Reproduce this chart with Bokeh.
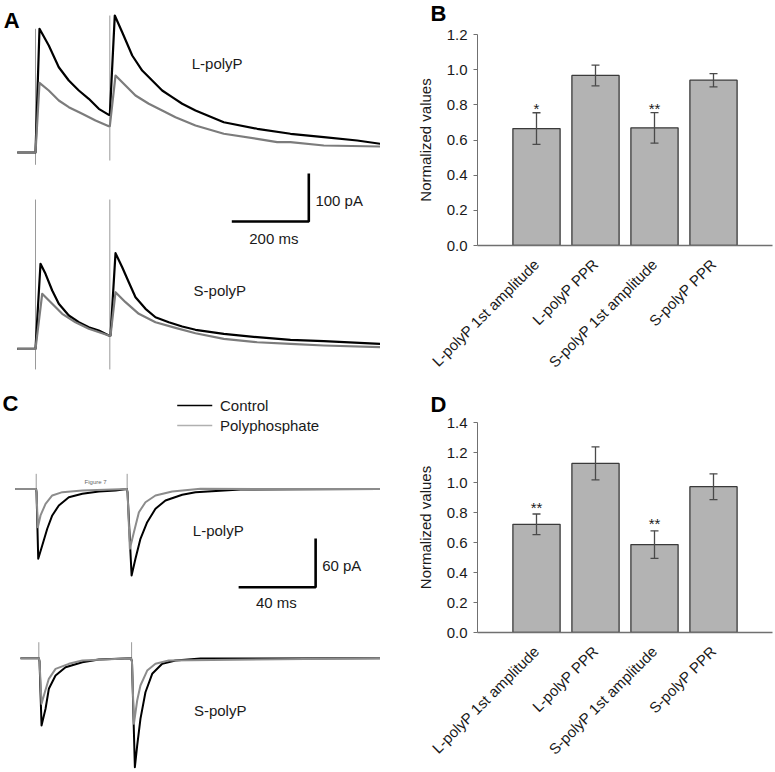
import math
from bokeh.plotting import figure
from bokeh.models import (Range1d, Label, Whisker, TeeHead, ColumnDataSource,
                          FixedTicker, PrintfTickFormatter, Title)
from bokeh.layouts import row, column
from bokeh.embed import file_html
from bokeh.resources import INLINE
from bokeh.core.properties import value

FONT = "Liberation Sans"

# ---------------- Panel A: paired-pulse currents (ms, pA relative to baseline) -------------
A_STIM_MS = [0.0, 193.0]
A_L_CTRL_T = [-47.5, 0.0, 10.4, 34.5, 60.5, 86.5, 112.5, 138.4, 164.4, 190.4, 193.0, 205.9,
              225.2, 251.2, 277.1, 303.1, 329.0, 355.0, 381.0, 415.5, 489.0, 575.8, 662.2,
              748.7, 835.5, 896.0]
A_L_CTRL_I = [0, 0, 257.7, 222.9, 177.7, 150.0, 129.2, 111.9, 91.0, 78.5, 78.5, 285.4,
              250.6, 202.1, 170.8, 150.0, 129.2, 115.2, 101.5, 87.5, 63.1, 49.4, 39.0,
              31.9, 25.0, 18.1]
A_L_POLY_T = [-47.5, 0.0, 10.4, 34.5, 60.5, 86.5, 121.3, 155.8, 190.4, 193.0, 207.8, 233.7,
              259.7, 294.2, 329.0, 363.6, 415.5, 489.0, 575.8, 627.7, 662.2, 748.7, 896.0]
A_L_POLY_I = [0, 0, 145.2, 129.2, 108.3, 94.4, 80.6, 66.7, 54.8, 54.8, 160.4, 139.6,
              118.7, 101.5, 87.5, 73.5, 56.2, 39.0, 28.5, 21.5, 21.5, 14.6, 12.5]
A_S_CTRL_T = [-47.5, 0.0, 13.0, 26.0, 43.4, 60.5, 86.5, 112.5, 138.4, 164.4, 190.4, 194.8,
              207.8, 225.2, 242.3, 259.7, 285.7, 311.6, 346.2, 381.0, 415.5, 489.0, 575.8,
              662.2, 748.7, 896.0]
A_S_CTRL_I = [0, 0, 177.1, 156.2, 121.5, 93.7, 69.4, 55.4, 45.0, 38.1, 27.7, 27.7,
              199.2, 170.0, 138.7, 107.5, 83.3, 65.8, 55.4, 46.5, 39.6, 31.2, 24.2,
              18.7, 15.8, 10.4]
A_S_POLY_T = [-47.5, 0.0, 17.4, 43.4, 69.3, 103.9, 138.4, 190.4, 194.8, 207.8, 233.7, 268.3,
              311.6, 363.6, 415.5, 489.0, 575.8, 662.2, 748.7, 896.0]
A_S_POLY_I = [0, 0, 114.6, 93.7, 72.9, 55.4, 41.7, 27.7, 27.7, 117.9, 97.1, 72.9,
              55.4, 43.7, 32.5, 20.8, 13.7, 10.4, 6.9, 3.3]
A_L_ARTIFACT = [(-25.6, 257.7), (-16.7, 285.4)]
A_S_ARTIFACT = [(-43.0, 311.0), (-43.0, 311.0)]
A_SCALE = {"ms": 200, "pA": 100}

# ---------------- Panel C: paired-pulse currents (ms, pA relative to baseline) -------------
C_L_STIM_MS = [0.35, 47.6]
C_S_STIM_MS = [1.71, 49.9]
C_L_CTRL_T = [-10.4, 0.26, 0.52, 1.40, 3.48, 6.08, 8.68, 12.1, 17.3, 24.3, 32.9, 41.6, 47.4,
              47.8, 49.9, 51.9, 54.5, 58.0, 62.3, 67.5, 76.2, 83.1, 106.5, 179.2]
C_L_CTRL_I = [0, 0, -4.3, -86.0, -69.6, -49.0, -32.6, -20.3, -10.1, -5.9, -3.1, -1.8, 0,
              -4.3, -106.6, -86.0, -61.4, -40.9, -24.4, -14.2, -7.1, -3.9, -0.6, 0]
C_L_POLY_T = [-10.4, 0.26, 0.52, 1.19, 2.60, 5.20, 8.68, 13.9, 24.3, 47.4, 47.8, 49.0, 51.1,
              53.7, 57.1, 62.3, 71.0, 85.7, 179.2]
C_L_POLY_I = [0, 0, -4.3, -47.1, -32.6, -18.2, -8.0, -3.9, -1.8, 0, -4.3, -73.7, -53.2,
              -28.6, -16.3, -8.0, -3.1, 0.2, 0]
C_S_CTRL_T = [-7.8, 1.71, 2.08, 3.12, 5.20, 6.91, 10.4, 15.6, 24.3, 32.9, 49.6, 50.1, 51.6,
              52.8, 54.5, 57.1, 60.6, 65.8, 72.7, 85.7, 179.2]
C_S_CTRL_I = [0, 0, -4.1, -83.0, -62.3, -37.7, -21.3, -11.1, -4.9, -1.6, 0, -4.1, -134.3,
              -107.6, -74.7, -41.9, -19.2, -6.9, -2.8, -0.4, 0]
C_S_POLY_T = [-7.8, 1.71, 2.08, 3.12, 4.83, 6.91, 10.4, 17.3, 24.3, 49.6, 50.1, 51.1, 52.8,
              54.5, 58.0, 62.3, 69.2, 179.2]
C_S_POLY_I = [0, 0, -4.1, -56.2, -41.9, -25.4, -13.1, -6.9, -2.8, 0, -4.1, -80.8, -52.1,
              -33.6, -15.2, -6.9, -2.8, 0]
C_L_ARTIFACT_PA = 18.7
C_S_ARTIFACT_PA = 19.7
C_SCALE = {"ms": 40, "pA": 60}
LEGEND_LABELS = ["Control", "Polyphosphate"]

# ---------------- Panels B and D: normalized values -------------
CATEGORIES = ["L-polyP 1st amplitude", "L-polyP PPR", "S-polyP 1st amplitude", "S-polyP PPR"]
B_MEANS = [0.665, 0.967, 0.669, 0.940]
B_ERRORS = [0.090, 0.059, 0.087, 0.038]
B_STARS = ["*", "", "**", ""]
B_YTICKS = [0.0, 0.2, 0.4, 0.6, 0.8, 1.0, 1.2]
D_MEANS = [0.721, 1.127, 0.586, 0.972]
D_ERRORS = [0.069, 0.110, 0.092, 0.086]
D_STARS = ["**", "", "**", ""]
D_YTICKS = [0.0, 0.2, 0.4, 0.6, 0.8, 1.0, 1.2, 1.4]

BLACK = "#000000"
GRAY_A = "#7c7c7c"
GRAY_C = "#8c8c8c"
ART = "#9a9a9a"
TXT = "#1a1a1a"


def trace_fig(width, height, xr, yr):
    p = figure(width=width, height=height, x_range=Range1d(*xr), y_range=Range1d(*yr),
               x_axis_location=None, y_axis_location=None, toolbar_location=None,
               output_backend="svg", min_border=0, outline_line_color=None)
    p.grid.visible = False
    return p


def add_text(p, x, y, t, size="15px", align="center", baseline="middle", color=TXT):
    p.text(x=[x], y=[y], text=[t], text_font=value(FONT), text_font_size=size,
           text_align=align, text_baseline=baseline, text_color=color)


def letter(p, x, y, t):
    p.add_layout(Label(x=x, y=y, text=t, text_font=FONT, text_font_size="22px",
                       text_font_style="bold", text_color=BLACK, text_align="left",
                       text_baseline="alphabetic"))


# ---------------- Panel A ----------------
pA = trace_fig(380, 370, (-90.9, 896.0), (-454.2, 316.7))
S_OFF_A = -409.0
for t, (lo, hi) in zip(A_STIM_MS, A_L_ARTIFACT):
    pA.segment(x0=[t], y0=[lo], x1=[t], y1=[hi], line_color=ART, line_width=1)
for t, (lo, hi) in zip(A_STIM_MS, A_S_ARTIFACT):
    pA.segment(x0=[t], y0=[lo + S_OFF_A], x1=[t], y1=[hi + S_OFF_A], line_color=ART, line_width=1)
pA.line(A_L_CTRL_T, A_L_CTRL_I, line_color=BLACK, line_width=2.2, line_join="round")
pA.line(A_L_POLY_T, A_L_POLY_I, line_color=GRAY_A, line_width=2.2, line_join="round")
pA.line(A_S_CTRL_T, [v + S_OFF_A for v in A_S_CTRL_I], line_color=BLACK, line_width=2.2,
        line_join="round")
pA.line(A_S_POLY_T, [v + S_OFF_A for v in A_S_POLY_I], line_color=GRAY_A, line_width=2.2,
        line_join="round")
# scale bar
cx, cy = 709.8, -143.7
pA.line([cx - A_SCALE["ms"], cx, cx], [cy, cy, cy + A_SCALE["pA"]], line_color=BLACK,
        line_width=2.6)
add_text(pA, 727.0, -100.0, f'{A_SCALE["pA"]} pA', align="left")
add_text(pA, 619.0, -179.8, f'{A_SCALE["ms"]} ms')
add_text(pA, 471.8, 184.8, "L-polyP")
add_text(pA, 478.7, 121.5 + S_OFF_A, "S-polyP")
letter(pA, -82.3, 275.0, "A")

# ---------------- Panel C ----------------
pC = trace_fig(380, 402, (-18.2, 179.2), (-349.3, 146.0))
S_OFF_C = -208.5
for t in C_L_STIM_MS:
    pC.segment(x0=[t], y0=[0], x1=[t], y1=[C_L_ARTIFACT_PA], line_color=ART, line_width=1)
for t in C_S_STIM_MS:
    pC.segment(x0=[t], y0=[S_OFF_C], x1=[t], y1=[C_S_ARTIFACT_PA + S_OFF_C], line_color=ART,
               line_width=1)
pC.line(C_L_CTRL_T, C_L_CTRL_I, line_color=BLACK, line_width=2.0, line_join="round")
pC.line(C_L_POLY_T, C_L_POLY_I, line_color=GRAY_C, line_width=2.0, line_join="round")
pC.line(C_S_CTRL_T, [v + S_OFF_C for v in C_S_CTRL_I], line_color=BLACK, line_width=2.0,
        line_join="round")
pC.line(C_S_POLY_T, [v + S_OFF_C for v in C_S_POLY_I], line_color=GRAY_C, line_width=2.0,
        line_join="round")
# legend
pC.line([73.6, 91.8], [102.9, 102.9], line_color=BLACK, line_width=1.3)
pC.line([73.6, 91.8], [78.2, 78.2], line_color="#b0b0b0", line_width=1.6)
add_text(pC, 95.8, 102.9, LEGEND_LABELS[0], align="left")
add_text(pC, 95.8, 78.2, LEGEND_LABELS[1], align="left")
add_text(pC, 31.2, 8.4, "Figure 7", size="6px", color="#666666")
# scale bar
cx, cy = 145.5, -121.0
pC.line([cx - C_SCALE["ms"], cx, cx], [cy, cy, cy + C_SCALE["pA"]], line_color=BLACK,
        line_width=2.6)
add_text(pC, 148.9, -94.2, f'{C_SCALE["pA"]} pA', align="left")
add_text(pC, 125.1, -140.2, f'{C_SCALE["ms"]} ms')
add_text(pC, 94.9, -51.1, "L-polyP")
add_text(pC, 95.9, -65.0 + S_OFF_C, "S-polyP")
letter(pC, -17.1, 105.0, "C")


# ---------------- Bar panels ----------------
def bar_fig(height, top_b, bottom_b, ymax, means, errs, stars, yticks, star_off, let, spacer_px):
    xs = [i + 1 for i in range(len(CATEGORIES))]
    p = figure(width=395, height=height, x_range=Range1d(0, 5), y_range=Range1d(0, ymax),
               toolbar_location=None, output_backend="svg", title=None,
               min_border_left=97, min_border_right=3, min_border_top=top_b,
               min_border_bottom=bottom_b, outline_line_color=None)
    p.add_layout(Title(text=" ", text_font=FONT, text_font_size=spacer_px, standoff=0), "above")
    p.add_layout(Title(text=let, align="left", offset=-47, text_font=FONT,
                       text_font_size="22px", text_font_style="bold", text_color=BLACK,
                       standoff=0, vertical_align="top"), "above")
    p.grid.visible = False
    src = ColumnDataSource(dict(x=xs, top=means,
                                upper=[m + e for m, e in zip(means, errs)],
                                lower=[m - e for m, e in zip(means, errs)],
                                star=stars))
    p.vbar(x="x", top="top", width=0.8, source=src, fill_color="#b3b3b3",
           line_color="#3a3a3a", line_width=1.3)
    w = Whisker(base="x", upper="upper", lower="lower", source=src, line_color="#4a4a4a",
                line_width=1.3, level="annotation",
                upper_head=TeeHead(size=8, line_color="#4a4a4a", line_width=1.3),
                lower_head=TeeHead(size=8, line_color="#4a4a4a", line_width=1.3))
    p.add_layout(w)
    p.text(x="x", y="upper", text="star", source=src, text_font=value(FONT),
           text_font_size="15px", text_align="center", text_baseline="alphabetic",
           y_offset=star_off, text_color=TXT)
    xa = p.xaxis[0]
    xa.ticker = FixedTicker(ticks=xs)
    xa.major_label_overrides = {x: c for x, c in zip(xs, CATEGORIES)}
    xa.major_label_orientation = math.pi / 4
    xa.major_tick_line_color = None
    xa.minor_tick_line_color = None
    xa.axis_line_color = "#707070"
    xa.axis_line_width = 1.5
    xa.major_label_text_font = FONT
    xa.major_label_text_font_size = "15px"
    xa.major_label_text_color = TXT
    xa.major_label_standoff = 10
    ya = p.yaxis[0]
    ya.ticker = FixedTicker(ticks=yticks)
    ya.formatter = PrintfTickFormatter(format="%.1f")
    ya.major_tick_in = 0
    ya.major_tick_out = 4
    ya.major_tick_line_color = "#707070"
    ya.minor_tick_line_color = None
    ya.axis_line_color = "#707070"
    ya.axis_line_width = 1
    ya.major_label_text_font = FONT
    ya.major_label_text_font_size = "15px"
    ya.major_label_text_color = TXT
    ya.major_label_standoff = 6
    ya.axis_label = "Normalized values"
    ya.axis_label_text_font = FONT
    ya.axis_label_text_font_size = "15px"
    ya.axis_label_text_font_style = "normal"
    ya.axis_label_text_color = TXT
    ya.axis_label_standoff = 10
    return p


pB = bar_fig(390, 34, 145, 1.2, B_MEANS, B_ERRORS, B_STARS, B_YTICKS, -4, "B", "4px")
pD = bar_fig(382, 32, 140, 1.4, D_MEANS, D_ERRORS, D_STARS, D_YTICKS, -7, "D", "2px")

layout = row(column(pA, pC), column(pB, pD))
open("out.html", "w").write(file_html(layout, INLINE))
